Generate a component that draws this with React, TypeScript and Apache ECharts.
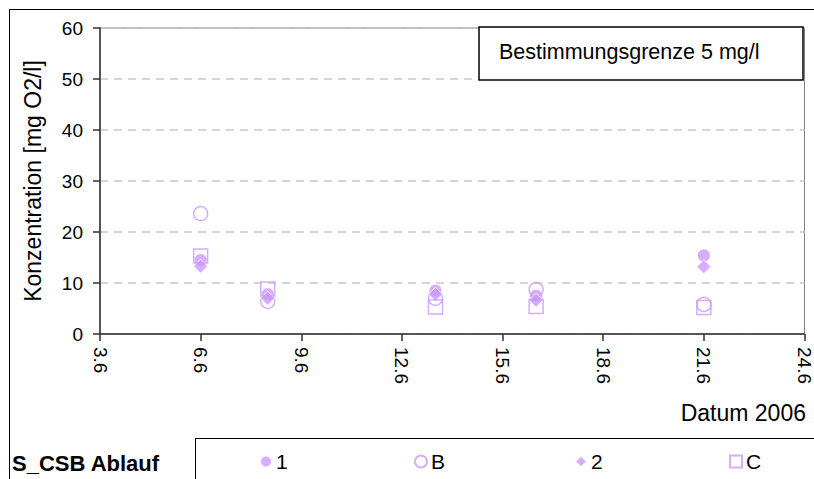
import React, { useEffect, useRef } from "react";
import * as echarts from "echarts";

// Day of June 2006
const days = [6, 8, 13, 16, 21];
const series1 = [14.5, 7.8, 8.5, 7.5, 15.4];
const seriesB = [23.6, 6.4, 7.0, 8.7, 5.8];
const series2 = [13.3, 7.0, 7.8, 6.6, 13.2];
const seriesC = [15.3, 8.8, 5.3, 5.4, 5.2];
const seriesNames = ["1", "B", "2", "C"];
const yTitle = "Konzentration [mg O2/l]";
const xTitle = "Datum 2006";
const noteText = "Bestimmungsgrenze 5 mg/l";
const legendTitle = "S_CSB Ablauf";

const PURPLE = "#cc99ff";
const FONT = "Liberation Sans, Arial, sans-serif";

export default function App() {
  const ref = useRef<HTMLDivElement>(null);
  useEffect(() => {
    document.body.style.margin = "0";
    const chart = echarts.init(ref.current!, null, { renderer: "svg" });
    const pts = (vals: number[]) => days.map((d, i) => [d, vals[i]]);
    const legendAt = (name: string, left: number) => ({
      data: [name],
      left,
      top: 451,
      itemWidth: 12,
      itemHeight: 12,
      itemGap: 0,
      padding: 0,
      textStyle: { fontFamily: FONT, fontSize: 21, color: "#000", padding: [0, 0, 0, -1] },
    });
    chart.setOption({
      animation: false,
      backgroundColor: "#fff",
      textStyle: { fontFamily: FONT },
      grid: {
        left: 100,
        top: 28,
        right: 8,
        bottom: 145,
        show: true,
        borderColor: "#808080",
        borderWidth: 1,
        containLabel: false,
      },
      xAxis: {
        type: "value",
        min: 3,
        max: 24,
        interval: 3,
        axisLine: { show: true, lineStyle: { color: "#303030", width: 1.5 } },
        axisTick: { show: true, length: 7, lineStyle: { color: "#303030", width: 1.5 } },
        splitLine: { show: false },
        axisLabel: {
          rotate: -90,
          margin: 13,
          fontSize: 19,
          color: "#000",
          fontFamily: FONT,
          formatter: (v: number) => `${v}.6`,
        },
      },
      yAxis: {
        type: "value",
        min: 0,
        max: 60,
        interval: 10,
        name: yTitle,
        nameLocation: "middle",
        nameGap: 56,
        nameRotate: 90,
        nameTextStyle: { fontSize: 23, color: "#000", fontFamily: FONT },
        axisLine: { show: true, lineStyle: { color: "#303030", width: 1.5 } },
        axisTick: { show: true, length: 7, lineStyle: { color: "#303030", width: 1.5 } },
        splitLine: { show: true, lineStyle: { color: "#c8c8c8", type: [8, 6], width: 1.5 } },
        axisLabel: { margin: 17, fontSize: 19, color: "#000", fontFamily: FONT },
      },
      legend: [
        legendAt("1", 259),
        legendAt("B", 414),
        legendAt("2", 574),
        legendAt("C", 729),
      ],
      series: [
        {
          name: seriesNames[0],
          type: "scatter",
          symbol: "circle",
          symbolSize: 13,
          data: pts(series1),
          itemStyle: { color: PURPLE, borderColor: "#fff", borderWidth: 1 },
          z: 2,
        },
        {
          name: seriesNames[1],
          type: "scatter",
          symbol: "circle",
          symbolSize: 14,
          data: pts(seriesB),
          itemStyle: { color: "rgba(255,255,255,0)", borderColor: PURPLE, borderWidth: 1.5 },
          z: 3,
        },
        {
          name: seriesNames[2],
          type: "scatter",
          symbol: "diamond",
          symbolSize: 14,
          data: pts(series2),
          itemStyle: { color: PURPLE, borderColor: "#fff", borderWidth: 1 },
          z: 4,
        },
        {
          name: seriesNames[3],
          type: "scatter",
          symbol: "rect",
          symbolSize: 14,
          data: pts(seriesC),
          itemStyle: { color: "rgba(255,255,255,0)", borderColor: PURPLE, borderWidth: 1.5 },
          z: 5,
        },
      ],
      graphic: [
        {
          type: "line",
          shape: { x1: 9, y1: 9.5, x2: 814, y2: 9.5 },
          style: { stroke: "#000", lineWidth: 1 },
        },
        {
          type: "line",
          shape: { x1: 9.5, y1: 9, x2: 9.5, y2: 479 },
          style: { stroke: "#000", lineWidth: 1 },
        },
        {
          type: "rect",
          shape: { x: 479, y: 27, width: 324, height: 53 },
          style: { fill: "#fff", stroke: "#000", lineWidth: 1.5 },
          z: 10,
        },
        {
          type: "text",
          x: 499,
          y: 52,
          style: {
            text: noteText,
            font: `21.5px ${FONT}`,
            fill: "#000",
            textVerticalAlign: "middle",
          },
          z: 11,
        },
        {
          type: "text",
          x: 806,
          y: 413,
          style: {
            text: xTitle,
            font: `23px ${FONT}`,
            fill: "#000",
            textAlign: "right",
            textVerticalAlign: "middle",
          },
        },
        {
          type: "line",
          shape: { x1: 195, y1: 438.5, x2: 814, y2: 438.5 },
          style: { stroke: "#000", lineWidth: 1 },
        },
        {
          type: "line",
          shape: { x1: 195.5, y1: 438, x2: 195.5, y2: 479 },
          style: { stroke: "#000", lineWidth: 1 },
        },
        {
          type: "text",
          x: 12,
          y: 463,
          style: {
            text: legendTitle,
            font: `bold 22px ${FONT}`,
            fill: "#000",
            textVerticalAlign: "middle",
          },
        },
      ],
    });
    return () => chart.dispose();
  }, []);
  return (
    <div
      ref={ref}
      style={{ position: "absolute", left: 0, top: 0, width: 814, height: 479 }}
    />
  );
}
